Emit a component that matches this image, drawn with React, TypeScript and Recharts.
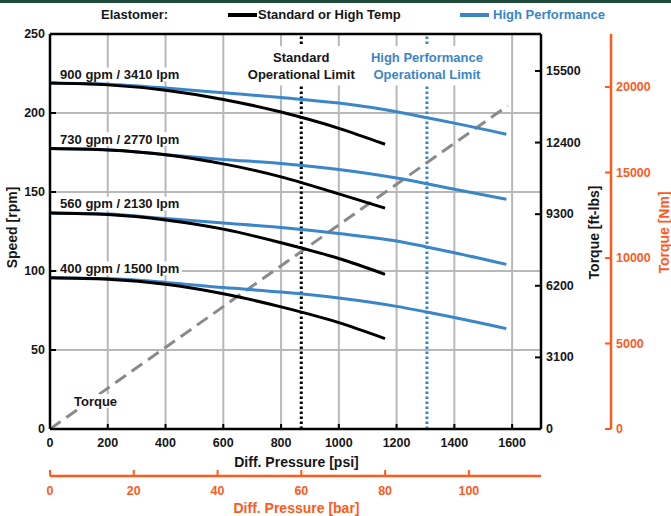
import React from "react";
import {
  ComposedChart,
  Line,
  XAxis,
  YAxis,
  CartesianGrid,
  ReferenceLine,
  ReferenceDot,
} from "recharts";

const FONT = '"Liberation Sans", Arial, Helvetica, sans-serif';
const INK = "#161616";
const BLUE = "#3a86c8";
const ORANGE = "#ff5a1e";
const GRID = "#b8b8b8";
const TORQUE_GRAY = "#8a8a8a";

// pressure points [psi] where the curves were read
const stdPsi = [0, 200, 400, 600, 800, 1000, 1160];
const hpPsi = [0, 200, 400, 600, 800, 1000, 1200, 1300, 1400, 1580];

const flowLabels = [
  "900 gpm / 3410 lpm",
  "730 gpm / 2770 lpm",
  "560 gpm / 2130 lpm",
  "400 gpm / 1500 lpm",
];

// speed [rpm] - Standard or High Temp elastomer
const std900 = [219, 217.8, 214.4, 208.6, 200.6, 190.3, 180.2];
const std730 = [177.5, 176.6, 173.6, 167.8, 159.6, 148.8, 139.8];
const std560 = [136.7, 135.7, 132.3, 126.5, 117.9, 107.9, 97.9];
const std400 = [95.8, 94.8, 91.6, 85.6, 77.3, 67.3, 57.2];

// speed [rpm] - High Performance elastomer
const hp900 = [219, 218.2, 215.8, 212.8, 209.8, 206.3, 200.8, 197.2, 193.6, 186.5];
const hp730 = [177.5, 176.7, 173.6, 170.6, 168, 164.2, 158.8, 155.4, 151.7, 145.4];
const hp560 = [136.7, 136, 133.2, 130.4, 127.5, 123.7, 119, 115.4, 111.6, 104.2];
const hp400 = [95.8, 95.2, 92.8, 89.5, 86.7, 82.9, 77.6, 74.2, 70.6, 63.5];

// torque [ft-lbs] vs pressure
const torquePsi = [0, 1585];
const torqueFtLbs = [0, 14000];

// operational limits [psi]
const standardLimitPsi = 870;
const hpLimitPsi = 1305;

const psiTicks = [0, 200, 400, 600, 800, 1000, 1200, 1400, 1600];
const rpmTicks = [0, 50, 100, 150, 200, 250];
const ftLbsTicks = [0, 3100, 6200, 9300, 12400, 15500];
const nmTicks = [0, 5000, 10000, 15000, 20000];
const barTicks = [0, 20, 40, 60, 80, 100];

const PSI_MAX = 1700;
const FTLBS_MAX = 17100;
const NM_MAX = 23100;
const PSI_PER_BAR = 14.5038;
// bar ticks placed on the psi scale
const barTicksInPsi = barTicks.map((b) => b * PSI_PER_BAR);

const toPoints = (psi: number[], rpm: number[]) =>
  psi.map((p, i) => ({ psi: p, rpm: rpm[i] }));

const stdSeries = [std900, std730, std560, std400].map((s) => toPoints(stdPsi, s));
const hpSeries = [hp900, hp730, hp560, hp400].map((s) => toPoints(hpPsi, s));
const torqueData = torquePsi.map((p, i) => ({ psi: p, torque: torqueFtLbs[i] }));

type Annotation = {
  lines: string[];
  psi: number;
  rpm: number;
  align: "start" | "middle";
  color: string;
};

// text annotations placed in data coordinates
const annotations: Annotation[] = [
  { lines: [flowLabels[0]], psi: 35, rpm: 224.4, align: "start", color: INK },
  { lines: [flowLabels[1]], psi: 35, rpm: 183.5, align: "start", color: INK },
  { lines: [flowLabels[2]], psi: 35, rpm: 142.7, align: "start", color: INK },
  { lines: [flowLabels[3]], psi: 35, rpm: 101.7, align: "start", color: INK },
  { lines: ["Torque"], psi: 83, rpm: 17.7, align: "start", color: INK },
  { lines: ["Standard", "Operational Limit"], psi: standardLimitPsi, rpm: 229.9, align: "middle", color: INK },
  { lines: ["High Performance", "Operational Limit"], psi: hpLimitPsi, rpm: 229.9, align: "middle", color: BLUE },
];

const legendItems = [
  { label: "Standard or High Temp", color: "#000", lineLeft: 228, textLeft: 258 },
  { label: "High Performance", color: BLUE, lineLeft: 460, textLeft: 493 },
];

let measureCtx: CanvasRenderingContext2D | null = null;
function textWidth(text: string, size: number) {
  if (!measureCtx && typeof document !== "undefined") {
    measureCtx = document.createElement("canvas").getContext("2d");
  }
  if (!measureCtx) return text.length * size * 0.6;
  measureCtx.font = `bold ${size}px "Liberation Sans", Arial, sans-serif`;
  return measureCtx.measureText(text).width;
}

const tickStyle = { fontFamily: FONT, fontSize: 12.5, fontWeight: 700 };

const PsiTick = ({ x, y, payload }: any) => (
  <g>
    <line x1={x} y1={y} x2={x} y2={y - 5} stroke="#000" strokeWidth={2} />
    <text x={x} y={y + 14} textAnchor="middle" dominantBaseline="central" fill={INK} style={tickStyle}>
      {payload.value}
    </text>
  </g>
);

const BarTick = ({ x, y, payload }: any) => (
  <g>
    <line x1={x} y1={y} x2={x} y2={y - 6} stroke={ORANGE} strokeWidth={2} />
    <text x={x} y={y + 14.5} textAnchor="middle" dominantBaseline="central" fill={ORANGE} style={tickStyle}>
      {Math.round(payload.value / PSI_PER_BAR)}
    </text>
  </g>
);

const RpmTick = ({ x, y, payload }: any) => (
  <g>
    <line x1={x} y1={y} x2={x + 6} y2={y} stroke="#000" strokeWidth={2} />
    <text x={x - 5} y={y} textAnchor="end" dominantBaseline="central" fill={INK} style={tickStyle}>
      {payload.value}
    </text>
  </g>
);

const FtLbsTick = ({ x, y, payload }: any) => (
  <g>
    <line x1={x - 6} y1={y} x2={x} y2={y} stroke="#000" strokeWidth={2} />
    <text x={x + 5} y={y} textAnchor="start" dominantBaseline="central" fill={INK} style={tickStyle}>
      {payload.value}
    </text>
  </g>
);

const NmTick = ({ x, y, payload }: any) => (
  <g>
    <line x1={x - 6} y1={y} x2={x} y2={y} stroke={ORANGE} strokeWidth={2} />
    <text x={x + 5} y={y} textAnchor="start" dominantBaseline="central" fill={ORANGE} style={tickStyle}>
      {payload.value}
    </text>
  </g>
);

const titleStyle = { fontFamily: FONT, fontSize: 14, fontWeight: 700 };

// axis title for vertical axes, dx measured from the axis box left edge
const yTitle = (text: string, color: string, dx: number, dy: number) => (props: any) => {
  const vb = props.viewBox || { x: 0, y: 0, width: 0, height: 0 };
  const cx = vb.x + dx;
  const cy = vb.y + vb.height / 2 + dy;
  return (
    <text
      x={cx}
      y={cy}
      transform={`rotate(-90 ${cx} ${cy})`}
      textAnchor="middle"
      dominantBaseline="central"
      fill={color}
      style={titleStyle}
    >
      {text}
    </text>
  );
};

const xTitle = (text: string, color: string, dy: number) => (props: any) => {
  const vb = props.viewBox || { x: 0, y: 0, width: 0, height: 0 };
  return (
    <text
      x={vb.x + vb.width / 2 + 1}
      y={vb.y + dy}
      textAnchor="middle"
      dominantBaseline="central"
      fill={color}
      style={titleStyle}
    >
      {text}
    </text>
  );
};

const psiTitle = xTitle("Diff. Pressure [psi]", INK, 33);
const barTitle = xTitle("Diff. Pressure [bar]", ORANGE, 32);
const rpmTitle = yTitle("Speed [rpm]", INK, 12, -4);
const ftLbsTitle = yTitle("Torque [ft-lbs]", INK, 53, 1);
const nmTitle = yTitle("Torque [Nm]", ORANGE, 53, 1);

// label with a white box behind it, like the reference
const boxLabel = (a: Annotation) => (props: any) => {
  const vb = props.viewBox || { x: 0, y: 0, width: 0, height: 0 };
  const cx = vb.x + (vb.width || 0) / 2;
  const cy = vb.y + (vb.height || 0) / 2;
  const fs = 13;
  const lh = 16.7;
  const w = Math.max(...a.lines.map((t) => textWidth(t, fs)));
  const left = a.align === "middle" ? cx - w / 2 : cx;
  const n = a.lines.length;
  const padY = n > 1 ? 3 : -1.5;
  return (
    <g>
      <rect x={left - 2.5} y={cy - (n * lh) / 2 - padY} width={w + 5} height={n * lh + 2 * padY} fill="#fff" />
      {a.lines.map((t, i) => (
        <text
          key={t}
          x={a.align === "middle" ? cx : left}
          y={cy - ((n - 1) * lh) / 2 + i * lh}
          textAnchor={a.align}
          dominantBaseline="central"
          fill={a.color}
          style={{ fontFamily: FONT, fontSize: fs, fontWeight: 700 }}
        >
          {t}
        </text>
      ))}
    </g>
  );
};
const annotationLabels = annotations.map(boxLabel);

const legendText: React.CSSProperties = {
  position: "absolute",
  top: 7,
  fontSize: 13,
  fontWeight: 700,
  lineHeight: "16px",
  whiteSpace: "nowrap",
};

const CHART_MARGIN = { top: 34, right: 0, bottom: 0, left: 0 };
const PSI_DOMAIN = [0, PSI_MAX];

export default function App() {
  return (
    <div style={{ position: "relative", width: 671, height: 516, background: "#fff", fontFamily: FONT }}>
      <style>{"body{margin:0}"}</style>
      <div style={{ position: "absolute", left: 0, top: 0, width: 671, height: 3, background: "#1e4a3a" }} />
      <span style={{ ...legendText, left: 101, color: INK }}>Elastomer:</span>
      {legendItems.map((it) => (
        <React.Fragment key={it.label}>
          <div style={{ position: "absolute", left: it.lineLeft, top: 13, width: 29, height: 4, background: it.color }} />
          <span style={{ ...legendText, left: it.textLeft, color: it.color === "#000" ? INK : it.color }}>{it.label}</span>
        </React.Fragment>
      ))}

      <ComposedChart width={671} height={516} margin={CHART_MARGIN}>
        <CartesianGrid xAxisId="x1" yAxisId="y1" stroke={GRID} strokeWidth={2} />
        <XAxis
          xAxisId="x1"
          type="number"
          dataKey="psi"
          domain={PSI_DOMAIN}
          allowDataOverflow
          ticks={psiTicks}
          interval={0}
          height={47}
          tickSize={0}
          tickMargin={0}
          tickLine={false}
          axisLine={{ stroke: "#000", strokeWidth: 2.5 }}
          tick={PsiTick}
          label={psiTitle}
        />
        <XAxis
          xAxisId="x2"
          type="number"
          dataKey="psi"
          domain={PSI_DOMAIN}
          allowDataOverflow
          ticks={barTicksInPsi}
          interval={0}
          height={40}
          tickSize={0}
          tickMargin={0}
          tickLine={false}
          axisLine={{ stroke: ORANGE, strokeWidth: 2.5 }}
          tick={BarTick}
          label={barTitle}
        />
        <YAxis
          yAxisId="y1"
          type="number"
          domain={[0, 250]}
          allowDataOverflow
          ticks={rpmTicks}
          interval={0}
          width={50}
          tickSize={0}
          tickMargin={0}
          tickLine={false}
          axisLine={{ stroke: "#000", strokeWidth: 2.5 }}
          tick={RpmTick}
          label={rpmTitle}
        />
        <YAxis
          yAxisId="y2"
          orientation="right"
          type="number"
          domain={[0, FTLBS_MAX]}
          allowDataOverflow
          ticks={ftLbsTicks}
          interval={0}
          width={70}
          tickSize={0}
          tickMargin={0}
          tickLine={false}
          axisLine={{ stroke: "#000", strokeWidth: 2.5 }}
          tick={FtLbsTick}
          label={ftLbsTitle}
        />
        <YAxis
          yAxisId="y3"
          orientation="right"
          type="number"
          domain={[0, NM_MAX]}
          allowDataOverflow
          ticks={nmTicks}
          interval={0}
          width={60}
          tickSize={0}
          tickMargin={0}
          tickLine={false}
          axisLine={{ stroke: ORANGE, strokeWidth: 2.5 }}
          tick={NmTick}
          label={nmTitle}
        />

        <ReferenceLine xAxisId="x1" yAxisId="y1" y={250} stroke="#000" strokeWidth={2.5} />
        <ReferenceLine
          xAxisId="x1"
          yAxisId="y1"
          x={standardLimitPsi}
          stroke="#000"
          strokeWidth={3}
          strokeDasharray="2.6 2.4"
        />
        <ReferenceLine
          xAxisId="x1"
          yAxisId="y1"
          x={hpLimitPsi}
          stroke={BLUE}
          strokeWidth={3}
          strokeDasharray="2.6 2.4"
        />

        {/* invisible copy so the bar axis has data bound to it */}
        <Line
          xAxisId="x2"
          yAxisId="y2"
          data={torqueData}
          dataKey="torque"
          stroke="none"
          dot={false}
          activeDot={false}
          legendType="none"
          isAnimationActive={false}
        />
        <Line
          xAxisId="x1"
          yAxisId="y2"
          data={torqueData}
          dataKey="torque"
          type="linear"
          stroke={TORQUE_GRAY}
          strokeWidth={3}
          strokeDasharray="13 7"
          dot={false}
          activeDot={false}
          isAnimationActive={false}
        />
        {hpSeries.map((d, i) => (
          <Line
            key={`hp-${i}`}
            xAxisId="x1"
            yAxisId="y1"
            data={d}
            dataKey="rpm"
            type="monotone"
            stroke={BLUE}
            strokeWidth={3}
            dot={false}
            activeDot={false}
            isAnimationActive={false}
          />
        ))}
        {stdSeries.map((d, i) => (
          <Line
            key={`std-${i}`}
            xAxisId="x1"
            yAxisId="y1"
            data={d}
            dataKey="rpm"
            type="monotone"
            stroke="#000"
            strokeWidth={3}
            dot={false}
            activeDot={false}
            isAnimationActive={false}
          />
        ))}

        {annotations.map((a, i) => (
          <ReferenceDot
            key={a.lines.join(" ")}
            xAxisId="x1"
            yAxisId="y1"
            x={a.psi}
            y={a.rpm}
            r={0}
            fill="none"
            stroke="none"
            label={annotationLabels[i]}
          />
        ))}
      </ComposedChart>
    </div>
  );
}
